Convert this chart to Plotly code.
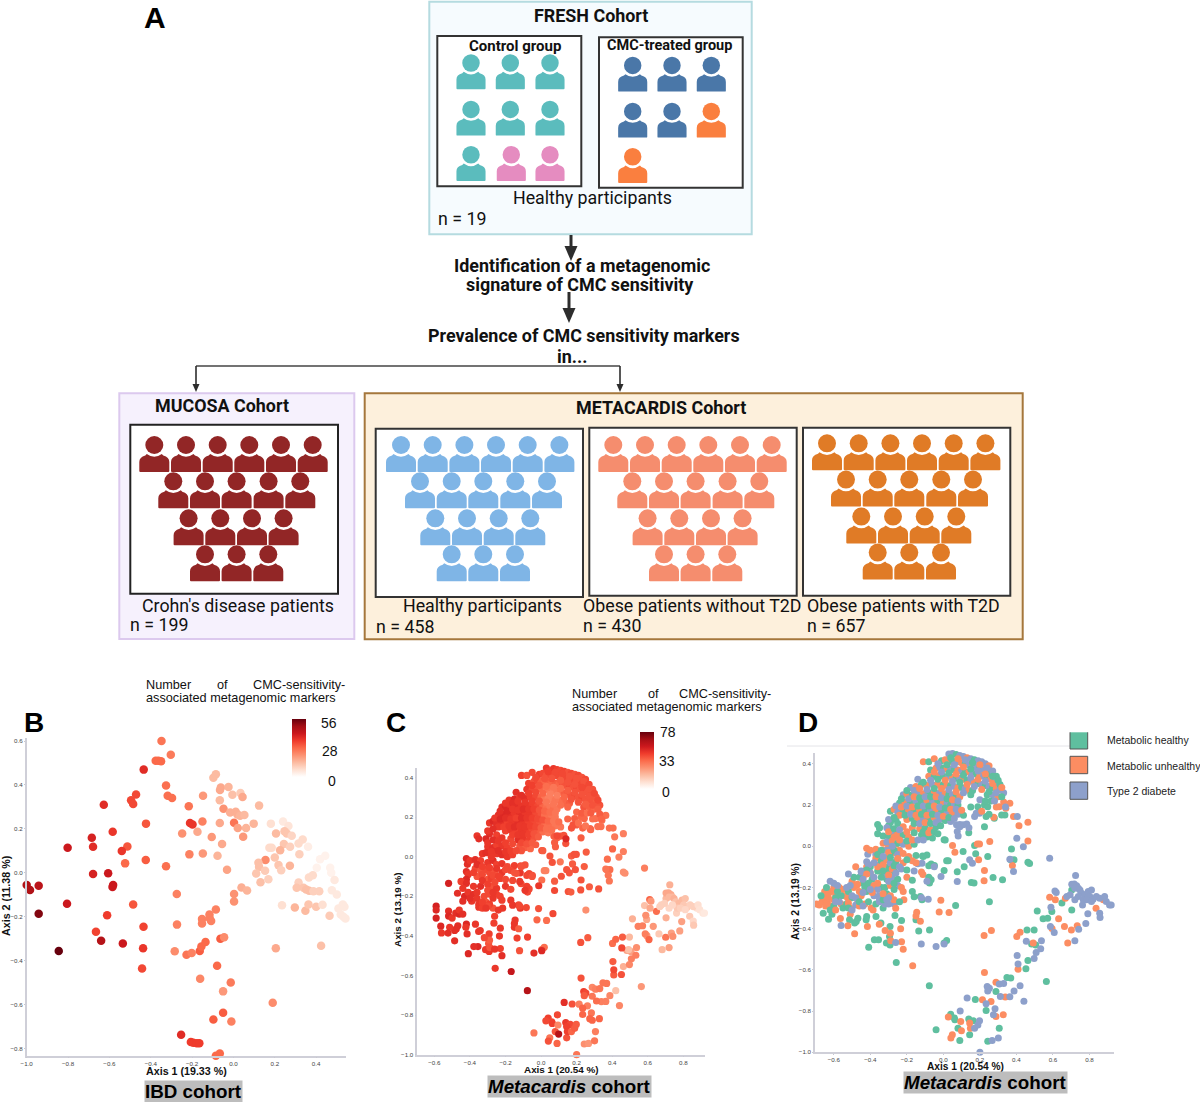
import plotly.graph_objects as go

W, H = 1200, 1102

# ---------- Panel B: IBD cohort (axis 1, axis 2, number of markers) ----------
ibd_points = [
(-.427,.619,34),(-.348,.60,26),(-.303,.538,25),(-.376,.51,28),(-.363,.51,28),(-.35,.508,28),(-.434,.47,38),
(-.326,.398,27),(-.318,.351,27),(-.297,.341,27),(-.471,.357,33),(-.495,.33,33),(-.485,.313,33),(-.627,.31,38),
(-.216,.303,26),(-.147,.351,20),(-.423,.224,31),(-.584,.187,36),(-.685,.16,40),(-.679,.119,38),(-.802,.114,42),
(-.513,.12,31),(-.54,.099,36),(-.524,.043,28),(-.424,.058,30),(-.326,.03,27),(-.679,-.005,40),(-.606,-.002,42),
(-.582,-.056,42),(-.585,-.065,42),(-1.0,-.056,47),(-.984,-.078,47),(-.942,-.059,45),(-.805,-.141,42),(-.942,-.186,53),
(-.485,-.144,31),(-.611,-.193,35),(-.665,-.268,34),(-.64,-.309,46),(-.535,-.322,42),(-.845,-.356,56),(-.435,-.246,34),
(-.437,-.344,36),(-.442,-.436,33),(-.274,-.096,24),(-.273,-.236,24),(-.284,-.357,22),(-.227,-.373,26),(-.202,-.365,24),
(-.163,-.356,30),(-.155,-.336,28),(-.135,-.315,28),(-.152,-.21,24),(-.152,-.231,24),(-.116,-.19,24),(-.115,-.207,24),
(-.108,-.219,24),(-.085,-.167,24),(-.063,-.30,30),(-.045,-.294,22),(-.079,-.423,28),(-.161,-.482,23),(-.013,-.50,25),
(-.05,-.54,20),(-.05,-.637,30),(-.097,-.668,30),(-.01,-.677,24),(.19,-.592,22),(.205,-.344,17),(.424,-.332,13),
(-.253,-.738,38),(-.206,-.771,35),(-.194,-.774,35),(-.177,-.776,35),(-.165,-.776,35),(-.085,-.833,28),(-.066,-.823,28),
(-.097,.433,14),(-.085,.449,14),(-.061,.389,17),(-.065,.377,17),(-.024,.391,15),(-.005,.356,13),(.034,.363,11),
(.044,.345,17),(-.066,.33,14),(-.048,.292,21),(.124,.306,14),(-.016,.275,16),(.011,.278,16),(.019,.266,16),
(.032,.26,15),(.053,.263,14),(.003,.228,26),(-.066,.227,17),(-.15,.234,24),(-.21,.227,36),(-.198,.22,36),
(.021,.204,18),(.061,.204,15),(.098,.224,15),(.047,.164,20),(-.248,.179,21),(-.174,.187,17),(-.105,.163,20),
(-.055,.131,17),(-.213,.084,24),(-.148,.088,20),(-.077,.078,15),(-.031,.014,18),(.003,-.097,21),(.003,-.131,21),
(.039,-.067,16),(.066,-.081,15),(.181,.224,7),(.24,.234,5),(.266,.213,6),(.206,.179,14),(.247,.189,12),(.258,.179,12),
(.282,.169,9),(.335,.152,8),(.315,.134,8),(.244,.131,12),(.274,.119,10),(.174,.114,8),(.185,.114,8),(.226,.103,15),
(.361,.119,4),(.319,.085,10),(.2,.07,12),(.155,.058,22),(.121,.046,13),(.124,.027,13),(.218,.035,12),(.273,.032,15),
(.153,.009,11),(.11,-.003,12),(.231,.012,10),(.131,-.043,13),(.169,-.029,10),(.419,.062,3),(.444,.078,3),(.403,.023,3),
(.468,.023,3),(.473,0,3),(.365,-.021,8),(.384,-.011,8),(.315,-.044,10),(.306,-.068,12),(.339,-.068,12),(.352,-.076,13),
(.366,-.082,13),(.387,-.084,10),(.415,-.084,10),(.489,-.033,5),(.476,-.079,5),(.5,-.099,5),(.235,-.148,7),(.297,-.158,15),
(.348,-.173,14),(.363,-.144,12),(.4,-.155,12),(.431,-.146,7),(.465,-.196,11),(.508,-.163,5),(.529,-.144,5),(.537,-.155,5),
(.519,-.19,5),(.532,-.2,5),(.542,-.208,5),
]

# ---------- Panels C and D: Metacardis cohort (axis 1, axis 2, markers, metabolic group) ----------
dome_points = [
(.03,.447,50,"T"),(.05,.45,48,"T"),(.07,.445,50,"H"),(.09,.44,48,"T"),(.11,.435,46,"T"),(.13,.43,48,"U"),(.15,.425,44,"T"),(.17,.42,46,"H"),(.19,.415,44,"T"),(.21,.41,46,"T"),(.23,.40,44,"T"),(.25,.39,46,"U"),
(-.11,.41,48,"U"),(-.08,.41,44,"H"),(-.05,.425,46,"U"),(-.01,.415,48,"H"),(.01,.42,46,"U"),(.03,.41,44,"U"),(.05,.415,46,"H"),(.08,.41,44,"T"),(.1,.405,46,"U"),(.12,.40,44,"H"),(.14,.395,46,"T"),(.16,.39,44,"U"),(.18,.385,46,"T"),(.2,.38,44,"H"),(.22,.37,46,"T"),(.24,.36,44,"T"),(.26,.35,46,"H"),
(-.07,.37,48,"H"),(-.04,.38,44,"U"),(-.02,.385,46,"T"),(0,.38,42,"H"),(.02,.375,40,"U"),(.04,.375,42,"T"),(.06,.37,40,"H"),(.08,.37,42,"U"),(.1,.365,40,"T"),(.12,.36,44,"H"),(.14,.36,44,"U"),(.16,.355,46,"T"),(.18,.35,44,"H"),(.2,.345,46,"U"),(.22,.34,44,"T"),(.24,.33,46,"H"),(.26,.325,44,"U"),(.28,.31,46,"T"),(.3,.30,42,"T"),
(-.14,.325,52,"T"),(-.08,.34,50,"U"),(-.05,.34,46,"H"),(-.02,.345,44,"U"),(0,.34,40,"H"),(.03,.34,36,"T"),(.05,.335,36,"U"),(.07,.33,34,"H"),(.09,.33,36,"T"),(.11,.325,38,"U"),(.13,.32,42,"H"),(.15,.315,44,"T"),(.17,.31,44,"U"),(.19,.305,46,"H"),(.21,.30,44,"T"),(.23,.295,46,"H"),(.25,.29,44,"T"),(.27,.285,44,"H"),(.29,.28,44,"U"),(.31,.275,42,"T"),(.33,.26,44,"T"),
(-.18,.285,50,"T"),(-.15,.29,54,"U"),(-.12,.30,50,"H"),(-.09,.295,52,"U"),(-.06,.30,48,"T"),(-.03,.30,46,"U"),(0,.30,40,"H"),(.02,.295,36,"U"),(.04,.295,34,"H"),(.06,.29,34,"T"),(.08,.285,36,"U"),(.1,.285,36,"H"),(.12,.28,38,"T"),(.14,.27,40,"U"),(.16,.27,42,"H"),(.24,.25,44,"H"),(.27,.25,42,"T"),(.3,.24,40,"U"),(.33,.215,42,"U"),
(-.22,.25,52,"T"),(-.2,.255,54,"U"),(-.17,.25,50,"H"),(-.14,.26,52,"T"),(-.11,.255,50,"U"),(-.08,.26,50,"H"),(-.05,.26,48,"U"),(-.02,.26,46,"T"),(.01,.255,40,"U"),(.03,.25,38,"H"),(.05,.25,36,"T"),(.07,.24,38,"H"),(.09,.24,36,"U"),(.2,.225,40,"T"),(.23,.22,42,"H"),(.26,.22,38,"H"),(.29,.19,38,"U"),(.34,.19,40,"T"),
(-.24,.21,52,"H"),(-.21,.215,54,"U"),(-.18,.21,52,"H"),(-.15,.22,50,"T"),(-.12,.215,52,"H"),(-.09,.22,50,"U"),(-.06,.215,50,"T"),(-.03,.22,46,"H"),(0,.21,44,"U"),(.02,.21,38,"T"),(.04,.20,38,"H"),(.06,.205,36,"T"),(.08,.2,36,"H"),(.15,.19,40,"H"),(.18,.16,44,"T"),(.21,.17,38,"U"),(.25,.155,36,"H"),
(-.29,.17,50,"H"),(-.27,.18,54,"U"),(-.25,.165,52,"T"),(-.22,.17,52,"H"),(-.19,.175,48,"U"),(-.16,.17,50,"H"),(-.13,.175,52,"U"),(-.1,.17,50,"H"),(-.07,.175,48,"T"),(-.04,.17,46,"U"),(-.01,.165,44,"H"),(.02,.16,38,"T"),(.05,.155,38,"U"),(.08,.155,36,"T"),(.11,.15,36,"H"),
(-.2,.13,48,"U"),(-.17,.135,50,"H"),(-.14,.13,48,"U"),(-.11,.135,50,"T"),(-.08,.13,48,"H"),(-.05,.14,46,"U"),(-.02,.13,42,"T"),(.01,.125,38,"H"),(.04,.12,36,"T"),(.09,.105,46,"T"),(.14,.09,54,"T"),
]
dome_fill = [
(.04,.43,48,"H"),(.08,.425,46,"U"),(.12,.42,46,"T"),(.16,.405,44,"H"),(.2,.395,44,"U"),(.24,.38,44,"T"),(.27,.365,46,"T"),(.29,.34,44,"H"),(-.03,.40,46,"T"),(.02,.395,44,"H"),(.06,.395,44,"T"),(.11,.385,42,"U"),(.15,.375,44,"H"),(.19,.365,44,"T"),(.23,.35,46,"U"),(.27,.34,44,"H"),(.31,.30,44,"H"),(.32,.285,46,"U"),
(-.05,.36,48,"U"),(-.01,.36,44,"T"),(.03,.355,38,"H"),(.07,.35,36,"U"),(.11,.345,38,"H"),(.15,.335,42,"T"),(.19,.325,44,"U"),(.23,.315,44,"T"),(.27,.305,44,"U"),(.3,.32,46,"H"),(-.11,.31,52,"H"),(-.07,.32,48,"T"),(-.03,.325,46,"H"),(.01,.32,40,"U"),(.05,.315,34,"T"),(.09,.31,34,"H"),(.13,.30,40,"U"),(.17,.29,44,"T"),(.21,.275,44,"U"),(.25,.265,42,"H"),(.29,.26,44,"T"),(.32,.24,42,"H"),
(-.2,.27,50,"H"),(-.16,.27,52,"T"),(-.13,.28,50,"U"),(-.09,.275,50,"T"),(-.05,.28,48,"H"),(-.01,.28,44,"U"),(.03,.275,36,"T"),(.07,.265,36,"U"),(.11,.26,38,"T"),(.15,.25,40,"H"),(.28,.22,42,"T"),(-.23,.23,52,"H"),(-.19,.23,54,"T"),(-.16,.24,50,"U"),(-.13,.235,50,"H"),(-.1,.24,52,"T"),(-.07,.24,50,"H"),(-.04,.24,48,"U"),(-.01,.235,44,"T"),(.02,.23,40,"H"),(.05,.225,38,"U"),(.08,.22,36,"T"),
(-.26,.195,50,"T"),(-.23,.19,54,"U"),(-.2,.195,52,"T"),(-.17,.19,50,"U"),(-.14,.195,48,"H"),(-.11,.195,52,"T"),(-.08,.195,50,"H"),(-.05,.195,48,"U"),(-.02,.19,46,"T"),(.01,.185,44,"H"),(.04,.18,40,"U"),(.07,.18,36,"T"),(.1,.175,38,"U"),(-.24,.15,50,"U"),(-.21,.15,48,"H"),(-.18,.155,50,"T"),(-.15,.15,52,"U"),(-.12,.155,50,"H"),(-.09,.15,50,"U"),(-.06,.155,48,"H"),(-.03,.15,46,"T"),(0,.145,42,"U"),(.03,.14,38,"H"),(.06,.135,38,"T"),
(-.16,.11,48,"H"),(-.13,.11,50,"T"),(-.1,.115,50,"U"),(-.07,.11,48,"H"),(-.04,.115,44,"T"),(-.015,.1,42,"H"),(-.11,.07,46,"H"),(-.08,.065,44,"U"),(-.05,.07,42,"H"),(-.03,.06,42,"H"),(-.3,.13,50,"T"),(-.27,.14,52,"H"),(-.36,.105,50,"H"),(-.35,.09,52,"H"),
]
slope_points = [
(-.29,.115,52,"H"),(-.25,.11,48,"H"),(-.22,.095,50,"U"),(-.17,.09,46,"U"),(-.13,.085,52,"U"),(-.1,.09,50,"H"),(-.07,.08,48,"U"),(-.04,.095,44,"H"),
(-.31,.09,54,"T"),(-.3,.05,50,"H"),(-.27,.045,52,"U"),(-.25,.06,48,"U"),(-.22,.055,50,"H"),(-.19,.045,48,"U"),(-.12,.055,44,"H"),(-.09,.045,42,"H"),(-.06,.04,40,"H"),(-.11,.03,44,"T"),
(-.33,.015,50,"U"),(-.31,.02,52,"T"),(-.28,.025,50,"U"),(-.25,.015,50,"H"),(-.22,.01,52,"T"),(-.19,0,50,"U"),(-.16,.01,48,"H"),(.01,.03,42,"H"),
(-.42,-.01,54,"U"),(-.4,-.02,50,"U"),(-.37,-.015,52,"U"),(-.34,-.02,48,"H"),(-.3,-.03,50,"U"),(-.27,-.02,52,"H"),(-.25,-.04,48,"T"),(-.22,-.035,50,"U"),(-.19,-.05,46,"U"),(-.15,-.045,48,"H"),(-.11,-.05,44,"H"),
(-.42,-.075,52,"T"),(-.37,-.06,46,"U"),(-.34,-.07,44,"H"),(-.31,-.065,46,"U"),(-.29,-.08,46,"T"),(-.26,-.075,44,"H"),(-.22,-.08,50,"U"),(-.17,-.07,46,"U"),(-.14,-.085,44,"T"),(-.08,-.095,46,"H"),(-.05,-.1,44,"T"),
(-.41,-.09,50,"T"),(-.42,-.115,54,"H"),(-.45,-.125,48,"T"),(-.36,-.10,44,"U"),(-.3,-.115,44,"H"),(-.28,-.11,48,"U"),(-.23,-.11,48,"T"),(-.2,-.115,46,"H"),(-.16,-.12,46,"T"),(-.12,-.125,50,"U"),
(-.52,-.135,56,"T"),(-.42,-.135,52,"U"),(-.38,-.15,50,"T"),(-.34,-.15,52,"H"),(-.28,-.15,44,"T"),(-.25,-.16,50,"H"),(-.2,-.15,50,"U"),(-.17,-.165,46,"H"),(-.08,-.15,48,"H"),(-.09,-.17,50,"T"),
(-.47,-.185,52,"U"),(-.44,-.16,50,"T"),(-.43,-.2,54,"H"),(-.41,-.18,50,"H"),(-.38,-.19,52,"U"),(-.36,-.21,50,"T"),(-.32,-.2,46,"H"),(-.29,-.19,46,"U"),(-.25,-.19,48,"T"),(-.27,-.21,50,"H"),(-.23,-.2,48,"U"),
(-.59,-.25,56,"H"),(-.44,-.225,52,"T"),(-.39,-.225,50,"U"),(-.35,-.24,50,"T"),(-.31,-.23,44,"H"),(-.29,-.24,48,"U"),(-.22,-.22,48,"U"),(-.17,-.22,50,"H"),(-.16,-.245,50,"H"),(-.12,-.25,46,"T"),
(-.59,-.27,54,"T"),(-.59,-.31,56,"U"),(-.52,-.275,52,"U"),(-.52,-.3,54,"H"),(-.5,-.31,50,"T"),(-.48,-.285,52,"T"),(-.46,-.29,54,"U"),(-.46,-.27,50,"H"),(-.44,-.29,52,"T"),(-.35,-.255,50,"T"),(-.33,-.26,48,"H"),(-.3,-.25,46,"T"),(-.24,-.27,50,"H"),
(-.3,.07,50,"U"),(-.27,.085,52,"H"),(-.24,.08,50,"T"),(-.2,.07,48,"U"),(-.16,.065,46,"H"),(-.28,0,50,"T"),(-.24,.03,52,"U"),(-.2,.025,50,"H"),(-.17,.03,48,"U"),(-.14,.03,46,"T"),(-.36,-.04,52,"H"),(-.33,-.05,48,"T"),(-.29,-.055,48,"H"),(-.25,-.06,50,"U"),(-.2,-.065,46,"H"),(-.15,-.08,44,"U"),(-.38,-.08,48,"T"),(-.33,-.09,46,"U"),(-.27,-.095,46,"H"),(-.24,-.1,48,"T"),(-.33,-.12,50,"H"),(-.3,-.14,48,"U"),(-.26,-.13,46,"T"),(-.36,-.18,50,"U"),(-.3,-.17,46,"T"),(-.27,-.18,50,"H"),(-.4,-.21,52,"T"),(-.33,-.23,48,"U"),(-.31,-.26,50,"T"),
]
middle_points = [
(.004,.031,44,"H"),(.171,.003,42,"H"),(.108,-.026,36,"H"),(.177,-.037,42,"H"),(.243,-.05,42,"H"),(.373,-.013,38,"H"),(.369,-.066,36,"H"),(.387,-.066,38,"H"),(.463,-.078,30,"H"),(.472,-.084,30,"H"),(.018,-.071,34,"H"),(.027,-.071,34,"H"),(-.067,-.086,46,"H"),(-.049,-.094,44,"H"),(.004,-.118,38,"H"),(.076,-.124,42,"H"),(.114,-.099,44,"H"),(.153,-.176,44,"H"),(.168,-.179,42,"H"),(.272,-.152,42,"H"),(.324,-.163,44,"H"),(.252,-.27,30,"H"),(.067,-.288,46,"H"),(-.076,-.179,46,"H"),(-.067,-.163,46,"H"),(-.09,-.042,44,"H"),(-.114,-.047,46,"H"),(-.126,-.244,46,"H"),(-.117,-.26,50,"H"),(-.15,-.357,50,"H"),(-.135,-.411,48,"H"),(-.076,-.406,48,"H"),(.018,-.458,38,"H"),(.004,-.47,40,"H"),(-.258,-.564,50,"H"),(-.077,-.677,64,"H"),(-.229,-.361,50,"H"),(-.265,-.336,48,"H"),(-.292,-.39,48,"H"),(-.295,-.438,44,"H"),(-.312,-.47,50,"H"),(-.292,-.479,50,"H"),(-.355,-.454,54,"H"),(-.378,-.454,52,"H"),(-.409,-.49,54,"H"),(-.342,-.373,50,"H"),(-.369,-.341,50,"H"),(-.42,-.341,54,"H"),(-.423,-.357,50,"H"),(-.468,-.349,52,"H"),(-.477,-.365,52,"H"),(-.486,-.373,52,"H"),(-.514,-.357,50,"H"),(.225,.095,42,"H"),(.139,.066,44,"H"),(.337,.152,38,"H"),(.319,.152,38,"H"),(.279,.136,40,"H"),(.234,.144,40,"H"),(.189,.192,42,"H"),(.225,.2,40,"H"),(.243,.192,40,"H"),
(.05,.003,44,"U"),(.063,-.029,44,"U"),(.186,.011,44,"U"),(.198,.011,44,"U"),(.193,-.066,44,"U"),(.254,.023,42,"U"),(.225,-.118,44,"U"),(.223,-.168,44,"U"),(.378,-.094,36,"U"),(.414,.1,36,"U"),(.463,.116,34,"U"),(.463,.026,34,"U"),(.384,.144,38,"U"),(.364,.208,38,"U"),(.342,.184,38,"U"),(.306,.192,38,"U"),(.276,.141,40,"U"),(-.112,-.137,46,"U"),(-.014,-.262,44,"U"),(-.023,-.319,40,"U"),(.031,-.322,38,"U"),(-.146,-.32,50,"U"),(-.15,-.338,50,"U"),(-.126,-.364,42,"U"),(-.216,-.26,50,"U"),(-.261,-.301,48,"U"),(-.27,-.26,44,"U"),(-.168,-.58,60,"U"),(-.22,-.5,52,"U"),(-.229,-.464,48,"U"),(-.234,-.401,50,"U"),(-.29,-.422,42,"U"),(-.288,-.459,44,"U"),(-.319,-.409,46,"U"),(-.351,-.378,50,"U"),(-.416,-.39,52,"U"),(-.486,-.425,52,"U"),(-.523,-.386,52,"U"),(-.564,-.351,54,"U"),
(.076,.071,42,"T"),(.081,.05,42,"T"),(.072,.104,42,"T"),(.108,.104,44,"T"),(.09,.095,42,"T"),(.128,.108,44,"T"),(.144,-.066,44,"T"),(.159,-.082,44,"T"),(.076,-.171,46,"T"),(-.013,-.147,50,"T"),(-.117,-.082,50,"T"),(-.083,-.257,46,"T"),(-.121,-.475,44,"T"),(-.04,-.487,52,"T"),(.004,-.475,54,"T"),(-.261,-.467,50,"T"),(-.56,-.385,50,"T"),(.438,-.002,34,"T"),(.402,.039,40,"T"),(.405,.144,38,"T"),(.364,-.063,36,"T"),(.384,-.123,36,"T"),(-.414,-.039,52,"T"),(.171,.144,44,"T"),(.198,.16,42,"T"),
]
diagonal_points = [
(.04,-.815,48,"H"),(.06,-.834,46,"H"),(.063,-.842,48,"H"),(.08,-.883,44,"H"),(.09,-.943,40,"H"),(.144,-.915,44,"H"),(.139,-.838,50,"H"),(.164,-.847,46,"H"),(.243,-.946,30,"H"),(.306,-.883,34,"H"),(.234,-.797,40,"H"),(.175,-.744,44,"H"),(.288,-.705,36,"H"),(.348,-.637,36,"H"),(.369,-.64,36,"H"),(.564,-.656,28,"H"),(.452,-.595,44,"H"),(.463,-.555,22,"H"),(.458,-.406,42,"H"),(.497,-.406,20,"H"),(.483,-.474,26,"H"),(.506,-.479,26,"H"),(.514,-.314,22,"H"),(.546,-.352,34,"H"),(.571,-.349,34,"H"),(.594,-.317,24,"H"),(.649,-.276,38,"H"),(.703,-.309,22,"H"),(-.04,-.89,36,"H"),(.703,-.212,20,"H"),
(.027,-.829,46,"U"),(.049,-.915,36,"U"),(.041,-.931,44,"U"),(.095,-.85,32,"U"),(.099,-.896,64,"U"),(.144,-.858,48,"U"),(.148,-.883,48,"U"),(.214,-.745,34,"U"),(.261,-.753,34,"U"),(.288,-.826,40,"U"),(.328,-.818,40,"U"),(.225,-.613,44,"U"),(.288,-.66,32,"U"),(.339,-.732,34,"U"),(.409,-.597,42,"U"),(.402,-.438,38,"U"),(.42,-.417,40,"U"),(.223,-.433,44,"U"),(.263,-.409,42,"U"),(.492,-.47,18,"U"),(.631,-.352,28,"U"),(.595,-.399,28,"U"),(.663,-.39,16,"U"),(.701,-.407,36,"U"),(.733,-.386,26,"U"),(.681,-.47,20,"U"),(.836,-.301,16,"U"),(.582,-.247,18,"U"),(.613,-.26,24,"U"),(.668,-.252,14,"U"),(.876,-.26,10,"U"),
(.13,-.736,52,"T"),(.092,-.799,46,"T"),(.171,-.883,40,"T"),(.189,-.867,42,"T"),(.198,-.847,42,"T"),(.234,-.765,40,"T"),(.283,-.789,36,"T"),(.274,-.818,40,"T"),(.24,-.681,48,"T"),(.252,-.689,46,"T"),(.243,-.702,42,"T"),(.306,-.669,34,"T"),(.33,-.666,36,"T"),(.312,-.729,38,"T"),(.364,-.731,34,"T"),(.387,-.702,32,"T"),(.42,-.677,18,"T"),(.441,-.752,32,"T"),(.267,-.943,28,"T"),(.301,-.93,36,"T"),(.2,-1.0,36,"T"),(.404,-.53,42,"T"),(.409,-.571,46,"T"),(.497,-.545,32,"T"),(.508,-.516,34,"T"),(.533,-.498,34,"T"),(.537,-.459,30,"T"),(.454,-.461,46,"T"),(.586,-.39,34,"T"),(.607,-.419,40,"T"),(.589,-.296,30,"T"),(.611,-.217,40,"T"),(.618,-.225,28,"T"),(.724,-.142,22,"T"),(.582,-.058,34,"T"),(.762,-.285,14,"T"),(.791,-.328,26,"T"),(.856,-.325,12,"T"),(.858,-.346,16,"T"),(.78,-.375,26,"T"),(.741,-.403,30,"T"),(.72,-.459,26,"T"),
(.703,-.184,24,"T"),(.717,-.183,24,"T"),(.73,-.192,24,"T"),(.739,-.204,20,"T"),(.72,-.204,20,"T"),(.748,-.212,22,"T"),(.757,-.228,18,"T"),(.775,-.236,20,"T"),(.793,-.22,20,"T"),(.811,-.212,18,"T"),(.802,-.244,16,"T"),(.82,-.257,16,"T"),(.838,-.244,14,"T"),(.856,-.252,14,"T"),(.883,-.244,10,"T"),(.892,-.268,9,"T"),(.91,-.285,8,"T"),(.919,-.285,7,"T"),(.766,-.26,16,"T"),(.784,-.26,14,"T"),(.811,-.268,12,"T"),(.676,-.244,14,"T"),(.739,-.244,12,"T"),(.72,-.26,12,"T"),(.694,-.236,14,"T"),
]
# Samples visible only in panel D (left end of the dense band)
d_extra_unhealthy = [(-.71,-.275),(-.695,-.28),(-.68,-.285),(-.665,-.27),(-.655,-.25),(-.65,-.22),(-.635,-.27),(-.63,-.25),(-.645,-.29),(-.615,-.22),(-.6,-.26),(-.59,-.24),(-.57,-.2),(-.55,-.21),(-.525,-.25),(-.51,-.3),(-.5,-.17),(-.475,-.19),(-.46,-.22),(-.44,-.15),(-.42,-.1),(-.4,-.13),(-.395,-.3),(-.385,-.31),(-.51,-.33),(-.49,-.2),(-.63,-.23),(-.62,-.29),(-.6,-.2),(-.58,-.25),(-.56,-.28),(-.54,-.24),(-.48,-.1),(-.47,-.26),(-.45,-.24),(-.43,-.28),(-.38,-.2),(-.35,-.12),(-.33,-.08),(-.3,-.05),(-.28,-.1),(-.33,-.02),(-.3,0),(-.28,.03),(-.25,.05),(-.27,-.03),(-.26,.01),(-.24,-.02)]
d_extra_healthy = [(-.67,-.24),(-.64,-.2),(-.62,-.31),(-.61,-.33),(-.6,-.29),(-.58,-.22),(-.56,-.24),(-.55,-.3),(-.53,-.28),(-.52,-.22),(-.5,-.25),(-.49,-.15),(-.47,-.28),(-.46,-.15),(-.44,-.18),(-.42,-.22),(-.41,-.27),(-.4,-.1),(-.39,-.16),(-.37,-.28),(-.36,-.12),(-.34,-.2),(-.33,-.3),(-.31,-.16),(-.3,-.1),(-.27,-.12),(-.629,-.354),(-.658,-.325),(-.32,-.06),(-.29,-.03),(-.36,.06),(-.35,.09),(-.33,.05),(-.3,.1),(-.28,.08),(-.26,.13)]
d_extra_t2d = [(-.62,-.17),(-.6,-.18),(-.58,-.19),(-.57,-.27),(-.53,-.2),(-.51,-.19),(-.5,-.24),(-.48,-.25),(-.45,-.12),(-.43,-.12),(-.42,-.2),(-.41,-.09),(-.4,-.13),(-.38,-.24),(-.35,-.27),(-.32,-.28),(-.3,-.28),(-.27,-.28),(-.35,-.09),(-.32,-.14),(-.37,-.04),(-.34,-.05),(-.31,-.02),(-.28,0),(-.25,-.06),(-.23,.02),(-.27,.06)]

group_names = {"H": "Metabolic healthy", "U": "Metabolic unhealthy", "T": "Type 2 diabete"}
group_colors = {"H": "#5fbf9f", "U": "#fc8d62", "T": "#8da0cb"}
ticks_b_x = [-1.0, -.8, -.6, -.4, -.2, 0, .2, .4]
ticks_b_y = [.6, .4, .2, 0, -.2, -.4, -.6, -.8]
ticks_cd_x = [-.6, -.4, -.2, 0, .2, .4, .6, .8]
ticks_cd_y = [.4, .2, 0, -.2, -.4, -.6, -.8, -1.0]

REDS = [[0, "#ffffff"], [.125, "#fee0d2"], [.25, "#fcbba1"], [.375, "#fc9272"], [.5, "#fb6a4a"],
        [.625, "#ef3b2c"], [.75, "#cb181d"], [.875, "#a50f15"], [1, "#67000d"]]
ARIAL = "Liberation Sans, Arial, sans-serif"
ROBOTO = "Roboto, Arial, sans-serif"

def px(x): return x / W
def py(y): return 1 - y / H

shapes, annos = [], []

def rect(x0, y0, x1, y1, fill, line, lw=2):
    shapes.append(dict(type="rect", xref="paper", yref="paper", x0=px(x0), x1=px(x1), y0=py(y0), y1=py(y1),
                       fillcolor=fill, line=dict(color=line, width=lw), layer="below"))

def path(cmd, fill):
    shapes.append(dict(type="path", xref="paper", yref="paper", path=cmd, fillcolor=fill,
                       line=dict(color="rgba(0,0,0,0)", width=0), layer="below"))

def seg(x0, y0, x1, y1, color="#3a3a3a", lw=2):
    shapes.append(dict(type="line", xref="paper", yref="paper", x0=px(x0), x1=px(x1), y0=py(y0), y1=py(y1),
                       line=dict(color=color, width=lw), layer="below"))

def arrow(x, y0, y1, head, half, lw):
    seg(x, y0, x, y1 - head + 1, "#2d2d2d", lw)
    path(f"M{px(x-half)},{py(y1-head)} L{px(x+half)},{py(y1-head)} L{px(x)},{py(y1)} Z", "#2d2d2d")

def text(x, y, s, size=18, font=ROBOTO, anchor="center", color="#111111", **kw):
    annos.append(dict(xref="paper", yref="paper", x=px(x), y=py(y), text=s, showarrow=False, xanchor=anchor,
                      yanchor="middle", font=dict(size=size, family=font, color=color), borderpad=0, **kw))

def person(cx, top, color, s=1.0):
    def P(dx, dy): return f"{px(cx + dx * s)},{py(top + dy * s)}"
    body = ("M" + P(-15, 35) + " Q" + P(-15, 36) + " " + P(-14, 36) + " L" + P(14, 36) + " Q" + P(15, 36) + " " + P(15, 35)
            + " L" + P(15, 26) + " Q" + P(15, 21) + " " + P(9, 19.5) + " L" + P(7.5, 18) + " Q" + P(0, 23.5) + " " + P(-7.5, 18)
            + " L" + P(-9, 19.5) + " Q" + P(-15, 21) + " " + P(-15, 26) + " Z")
    path(body, color)
    r = 9 * s
    shapes.append(dict(type="circle", xref="paper", yref="paper", x0=px(cx - r), x1=px(cx + r),
                       y0=py(top), y1=py(top + 2 * r), fillcolor=color, line=dict(width=0), layer="below"))

# ---------- Panel A ----------
rect(429.3, 1.7, 751.7, 234.3, "#f6fbfe", "#b5dbe0")
rect(437.3, 36, 581.3, 186.3, "#ffffff", "#333333")
rect(599, 37.3, 742.7, 187.7, "#ffffff", "#333333")
rect(119.3, 393.3, 354.3, 639, "#f6f1fd", "#dcc9ee")
rect(130.3, 424.7, 338, 593.7, "#ffffff", "#222222")
rect(364.7, 393.3, 1022.7, 639.3, "#fdf0dc", "#a5773c")
rect(375.7, 428.7, 583, 597, "#ffffff", "#333333")
rect(589.3, 427.7, 796.7, 595.7, "#ffffff", "#333333")
rect(803, 427.7, 1010.3, 595.7, "#ffffff", "#333333")

TEAL, PINK, NAVY, ORANGE = "#5bbcbd", "#e58cc0", "#4a77a8", "#fa7f3f"
for top, cols in zip((54.3, 100.7, 146), ((TEAL, TEAL, TEAL), (TEAL, TEAL, TEAL), (TEAL, PINK, PINK))):
    for cx, c in zip((471, 510.3, 550), cols):
        person(cx + (1 if c == PINK and cx < 540 else 0), top, c, .97)
for top, cols in zip((56.7, 102.7, 148), ((NAVY, NAVY, NAVY), (NAVY, NAVY, ORANGE), (ORANGE,))):
    for cx, c in zip((632.7, 672, 711.3), cols):
        person(cx, top, c, .97)

rows = [(436, (0, 31.7, 63.4, 95, 126.7, 158.4)), (472.3, (19, 50.7, 82.3, 114.3, 146)),
        (509.3, (34.3, 66, 97.7, 129.3)), (545.3, (50.7, 82.3, 114))]
for x0, dy, color in ((154.3, 0, "#922626"), (401, 0, "#7fb5e6"), (613.3, 0, "#f58d6e"), (827, -1.7, "#e07b26")):
    for top, offs in rows:
        for o in offs:
            person(x0 + o, top + dy, color)

arrow(571, 235, 261, 15, 6.5, 3)
arrow(569, 292, 323, 15, 6.5, 3)
seg(196, 366, 620, 366, "#444444", 1.6)
arrow(196, 366, 392, 8, 3.5, 1.6)
arrow(620, 366, 392, 8, 3.5, 1.6)

BOLD = 17.9
text(155, 18, "<b>A</b>", 30, ARIAL, color="#000000")
text(591, 15, "<b>FRESH Cohort</b>", BOLD)
text(515, 46, "<b>Control group</b>", 15)
text(669, 45, "<b>CMC-treated group</b>", 14.5)
text(592, 198, "Healthy participants", 17.8)
text(436.5, 218, "n = 19", 17.8, anchor="left")
text(582, 265, "<b>Identification of a metagenomic</b>", BOLD)
text(579, 285, "<b>signature of CMC sensitivity</b>", BOLD)
text(584, 335, "<b>Prevalence of CMC sensitivity markers</b>", BOLD)
text(572, 356, "<b>in...</b>", BOLD)
text(222, 405, "<b>MUCOSA Cohort</b>", BOLD)
text(661, 408, "<b>METACARDIS Cohort</b>", BOLD)
text(141, 605, "Crohn's disease patients", 17.8, anchor="left")
text(128.5, 624.5, "n = 199", 17.8, anchor="left")
text(402, 605.5, "Healthy participants", 17.8, anchor="left")
text(374.5, 626.5, "n = 458", 17.8, anchor="left")
text(582, 605.5, "Obese patients without T2D", 17.8, anchor="left")
text(581.5, 625.5, "n = 430", 17.8, anchor="left")
text(806, 605.5, "Obese patients with T2D", 17.8, anchor="left")
text(805.5, 625.5, "n = 657", 17.8, anchor="left")

# ---------- Panel letters and captions ----------
for x, y, s in ((34, 722, "B"), (396, 722, "C"), (808, 722, "D")):
    text(x, y, f"<b>{s}</b>", 28, ARIAL, color="#000000")
for x0, y0, w1, w2, w3 in ((144.5, 685, 144.5, 216, 252), (570.5, 694, 570.5, 647, 678)):
    text(w1, y0, "Number", 12.7, ARIAL, "left")
    text(w2, y0, "of", 12.7, ARIAL, "left")
    text(w3, y0, "CMC-sensitivity-", 12.7, ARIAL, "left")
    text(x0, y0 + 13, "associated metagenomic markers", 12.7, ARIAL, "left")
for x, y, s in ((329, 723, "56"), (330, 751, "28"), (332, 781, "0"), (668, 732, "78"), (667, 761, "33"), (666, 792, "0")):
    text(x, y, s, 14, ARIAL)

# Axis titles (sit tight against the tick labels, as in the reference)
for x, y, s, size in ((186, 1071, "Axis 1 (19.33 %)", 10.7), (561, 1069, "Axis 1 (20.54 %)", 9.9), (965, 1066, "Axis 1 (20.54 %)", 10.2)):
    text(x, y, f"<b>{s}</b>", size, ARIAL)
for x, y, s, size in ((6, 896, "Axis 2 (11.38 %)", 10.7), (397, 910, "Axis 2 (13.19 %)", 9.9), (795, 902, "Axis 2 (13.19 %)", 10.2)):
    text(x, y, f"<b>{s}</b>", size, ARIAL, textangle=-90)

text(193, 1091, "<b>IBD cohort</b>", 18.8, ARIAL, bgcolor="#bdbdbd", color="#000000")
text(569, 1086, "<b><i>Metacardis</i> cohort</b>", 18.8, ARIAL, bgcolor="#bdbdbd", color="#000000")
text(985, 1082, "<b><i>Metacardis</i> cohort</b>", 18.8, ARIAL, bgcolor="#bdbdbd", color="#000000")

# ---------- Panel D hand legend ----------
seg(787, 746, 1070, 746, "#e4e4e8", 1)
shapes.append(dict(type="rect", xref="paper", yref="paper", x0=px(1070), x1=px(1087.7), y0=py(732.3), y1=py(749),
                   fillcolor=group_colors["H"], line=dict(width=0), layer="below"))
seg(1070, 732.3, 1070, 749, "#555555", 1)
seg(1087.7, 732.3, 1087.7, 749, "#555555", 1)
seg(1070, 749, 1087.7, 749, "#555555", 1)
text(1106, 740, group_names["H"], 10.5, ARIAL, "left", "#222222")
for y0, y1, key, ty in ((756.3, 773.7, "U", 766), (782, 799.3, "T", 791)):
    rect(1070, y0, 1087.7, y1, group_colors[key], "#555555", 1)
    text(1106, ty, group_names[key], 10.5, ARIAL, "left", "#222222")

fig = go.Figure()

def axis_style(domain, rng, vals):
    return dict(domain=domain, range=rng, tickvals=vals, tickformat=".1f", ticks="outside", ticklen=1, tickwidth=1,
                tickcolor="#c8c8d0", showline=True, linecolor="#cfcfd8", linewidth=1.5, showgrid=False, zeroline=False,
                tickfont=dict(size=6.2, color="#444444", family=ARIAL), fixedrange=True)

def add_axes(n, left, right, top, bottom, xr, yr, xt, yt):
    fig.layout[f"xaxis{n}"] = dict(axis_style([px(left), px(right)], xr, xt), anchor=f"y{n}")
    fig.layout[f"yaxis{n}"] = dict(axis_style([py(bottom), py(top)], yr, yt), anchor=f"x{n}")

def bar(x, top, height):
    return dict(x=px(x), xanchor="left", xpad=0, y=py(top), yanchor="top", ypad=0, len=height, lenmode="pixels",
                thickness=13.5, thicknessmode="pixels", outlinewidth=0, showticklabels=False, ticks="")

bx, by, bv = zip(*ibd_points)
fig.add_trace(go.Scatter(x=bx, y=by, mode="markers", xaxis="x1", yaxis="y1", showlegend=False, name="IBD cohort", cliponaxis=False,
    marker=dict(size=8.5, color=bv, cmin=0, cmax=56, colorscale=REDS, line=dict(width=0), colorbar=bar(292.3, 719.3, 58))))

shared = diagonal_points + middle_points + slope_points + dome_points + dome_fill
cx_, cy_, cv_, cg_ = zip(*shared)
fig.add_trace(go.Scatter(x=cx_, y=cy_, mode="markers", xaxis="x2", yaxis="y2", showlegend=False, name="Metacardis markers", cliponaxis=False,
    marker=dict(size=7.2, color=cv_, cmin=0, cmax=78, colorscale=REDS, line=dict(width=0), colorbar=bar(640.5, 732, 57))))

extra = [(x, y, "U") for x, y in d_extra_unhealthy] + [(x, y, "H") for x, y in d_extra_healthy] + [(x, y, "T") for x, y in d_extra_t2d]
dx_ = [p[0] for p in extra] + list(cx_)
dy_ = [p[1] for p in extra] + list(cy_)
dg_ = [p[2] for p in extra] + list(cg_)
fig.add_trace(go.Scatter(x=dx_, y=dy_, mode="markers", xaxis="x3", yaxis="y3", showlegend=False, name="Metacardis groups", cliponaxis=False,
    marker=dict(size=7, color=[group_colors[g] for g in dg_], line=dict(width=0))))

add_axes(1, 26.7, 345.7, 738, 1055.7, [-1.0, .543], [-.833, .614], ticks_b_x, ticks_b_y)
add_axes(2, 417.3, 705, 767.7, 1054.7, [-.696, .922], [-1.0, .449], ticks_cd_x, ticks_cd_y)
add_axes(3, 815, 1114.3, 753.3, 1052.3, [-.703, .936], [-1.0, .451], ticks_cd_x, ticks_cd_y)

fig.update_layout(width=W, height=H, margin=dict(l=0, r=0, t=0, b=0, autoexpand=False), paper_bgcolor="white",
                  plot_bgcolor="rgba(0,0,0,0)", shapes=shapes, annotations=annos, showlegend=False)
fig.write_html("out.html", config={"displayModeBar": False}, post_script="document.body.style.margin='0';")
